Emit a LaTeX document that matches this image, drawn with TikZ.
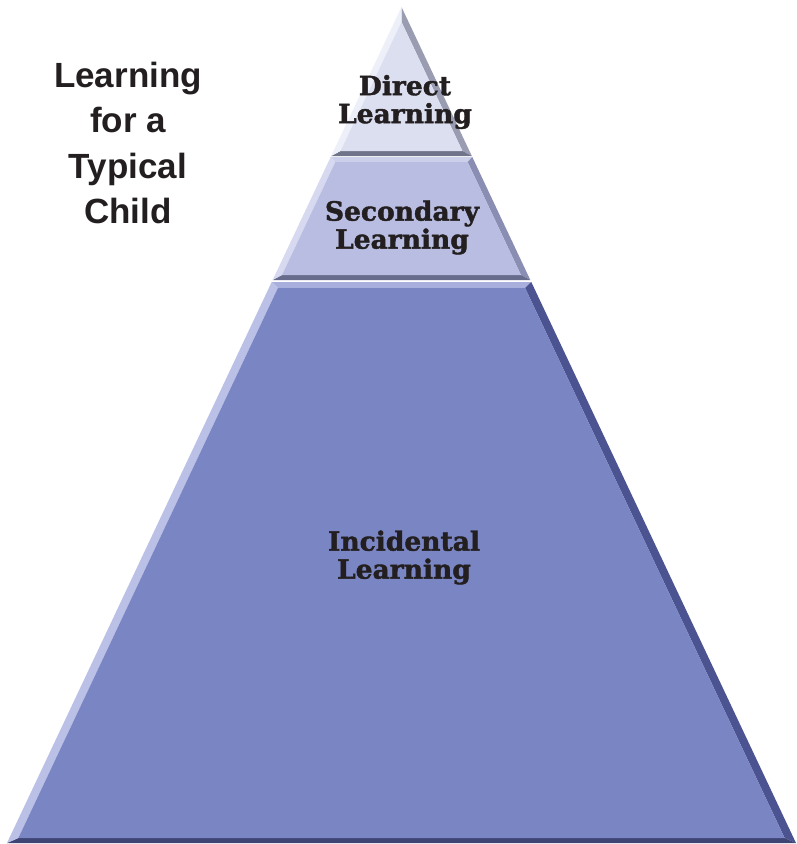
\documentclass[tikz,border=0pt]{standalone}
\usepackage{fontspec}
\setmainfont{DejaVu Serif}
\newfontfamily\bandfont{DejaVu Serif}[BoldFeatures={FakeBold=1.6}]
\newfontfamily\titlefont{Liberation Sans}
\definecolor{inktext}{HTML}{231F20}
% band 1 (Direct)
\definecolor{bAface}{HTML}{DCDFF0}
\definecolor{bAleft}{HTML}{EEF0F9}
\definecolor{bAright}{HTML}{9A9DB2}
\definecolor{bAtop}{HTML}{EEF0F9}
\definecolor{bAbottom}{HTML}{70748A}
% band 2 (Secondary)
\definecolor{bBface}{HTML}{B9BDE1}
\definecolor{bBleft}{HTML}{D6D9EF}
\definecolor{bBright}{HTML}{8A8EB2}
\definecolor{bBtop}{HTML}{CDD0EB}
\definecolor{bBbottom}{HTML}{686C8C}
% band 3 (Incidental)
\definecolor{bCface}{HTML}{7A85C3}
\definecolor{bCleft}{HTML}{BAC0E6}
\definecolor{bCright}{HTML}{4B5390}
\definecolor{bCtop}{HTML}{A9AFDC}
\definecolor{bCbottom}{HTML}{3E4474}
\def\ax{401.5}
\def\ay{7}
\def\kk{0.4719}
\def\bb{5}
\def\dd{8}
\newcommand\pband[4]{%
 \pgfmathsetmacro\xa{\ax-(#1-\ay)*\kk}%
 \pgfmathsetmacro\xb{\ax+(#1-\ay)*\kk}%
 \pgfmathsetmacro\xc{\ax+(#2-\ay)*\kk}%
 \pgfmathsetmacro\xd{\ax-(#2-\ay)*\kk}%
 \pgfmathsetmacro\yi{#1+#4}%
 \pgfmathsetmacro\yj{#2-\bb}%
 \pgfmathsetmacro\xe{\ax-(\yi-\ay)*\kk+\dd}%
 \pgfmathsetmacro\xf{\ax+(\yi-\ay)*\kk-\dd}%
 \pgfmathsetmacro\xg{\ax+(\yj-\ay)*\kk-\dd}%
 \pgfmathsetmacro\xh{\ax-(\yj-\ay)*\kk+\dd}%
 \fill[fill=#3top] (\xa,-#1) -- (\xb,-#1) -- (\xf,-\yi) -- (\xe,-\yi) -- cycle;
 \fill[fill=#3right] (\xb,-#1) -- (\xc,-#2) -- (\xg,-\yj) -- (\xf,-\yi) -- cycle;
 \fill[fill=#3bottom] (\xc,-#2) -- (\xd,-#2) -- (\xh,-\yj) -- (\xg,-\yj) -- cycle;
 \fill[fill=#3left] (\xd,-#2) -- (\xa,-#1) -- (\xe,-\yi) -- (\xh,-\yj) -- cycle;
 \fill[fill=#3face] (\xe,-\yi) -- (\xf,-\yi) -- (\xg,-\yj) -- (\xh,-\yj) -- cycle;
}
\tikzset{
  bandlabel/.style={align=center, text=inktext, inner sep=0pt,
    font=\bandfont\bfseries\fontsize{26.5}{28}\selectfont},
  titlelabel/.style={align=center, text=inktext, inner sep=0pt,
    font=\titlefont\bfseries\fontsize{35}{45.5}\selectfont}
}
\begin{document}
\begin{tikzpicture}[x=1pt,y=1pt]
\useasboundingbox (0,0) rectangle (796,-844);
\fill[white] (0,0) rectangle (796,-844);
% bands
\def\dd{7}
\pband{7}{156}{bA}{15}
\pband{157}{280}{bB}{5}
\def\dd{9}
\pband{282}{843}{bC}{6}
% labels
\node[bandlabel] (direct) at (405,-102) {Direct\\Learning};
\node[bandlabel] (secondary) at (402,-227.5) {Secondary\\Learning};
\node[bandlabel] (incidental) at (404,-557.5) {Incidental\\Learning};
\node[titlelabel] (title) at (128,-143) {Learning\\for a\\Typical\\Child};
\end{tikzpicture}
\end{document}
